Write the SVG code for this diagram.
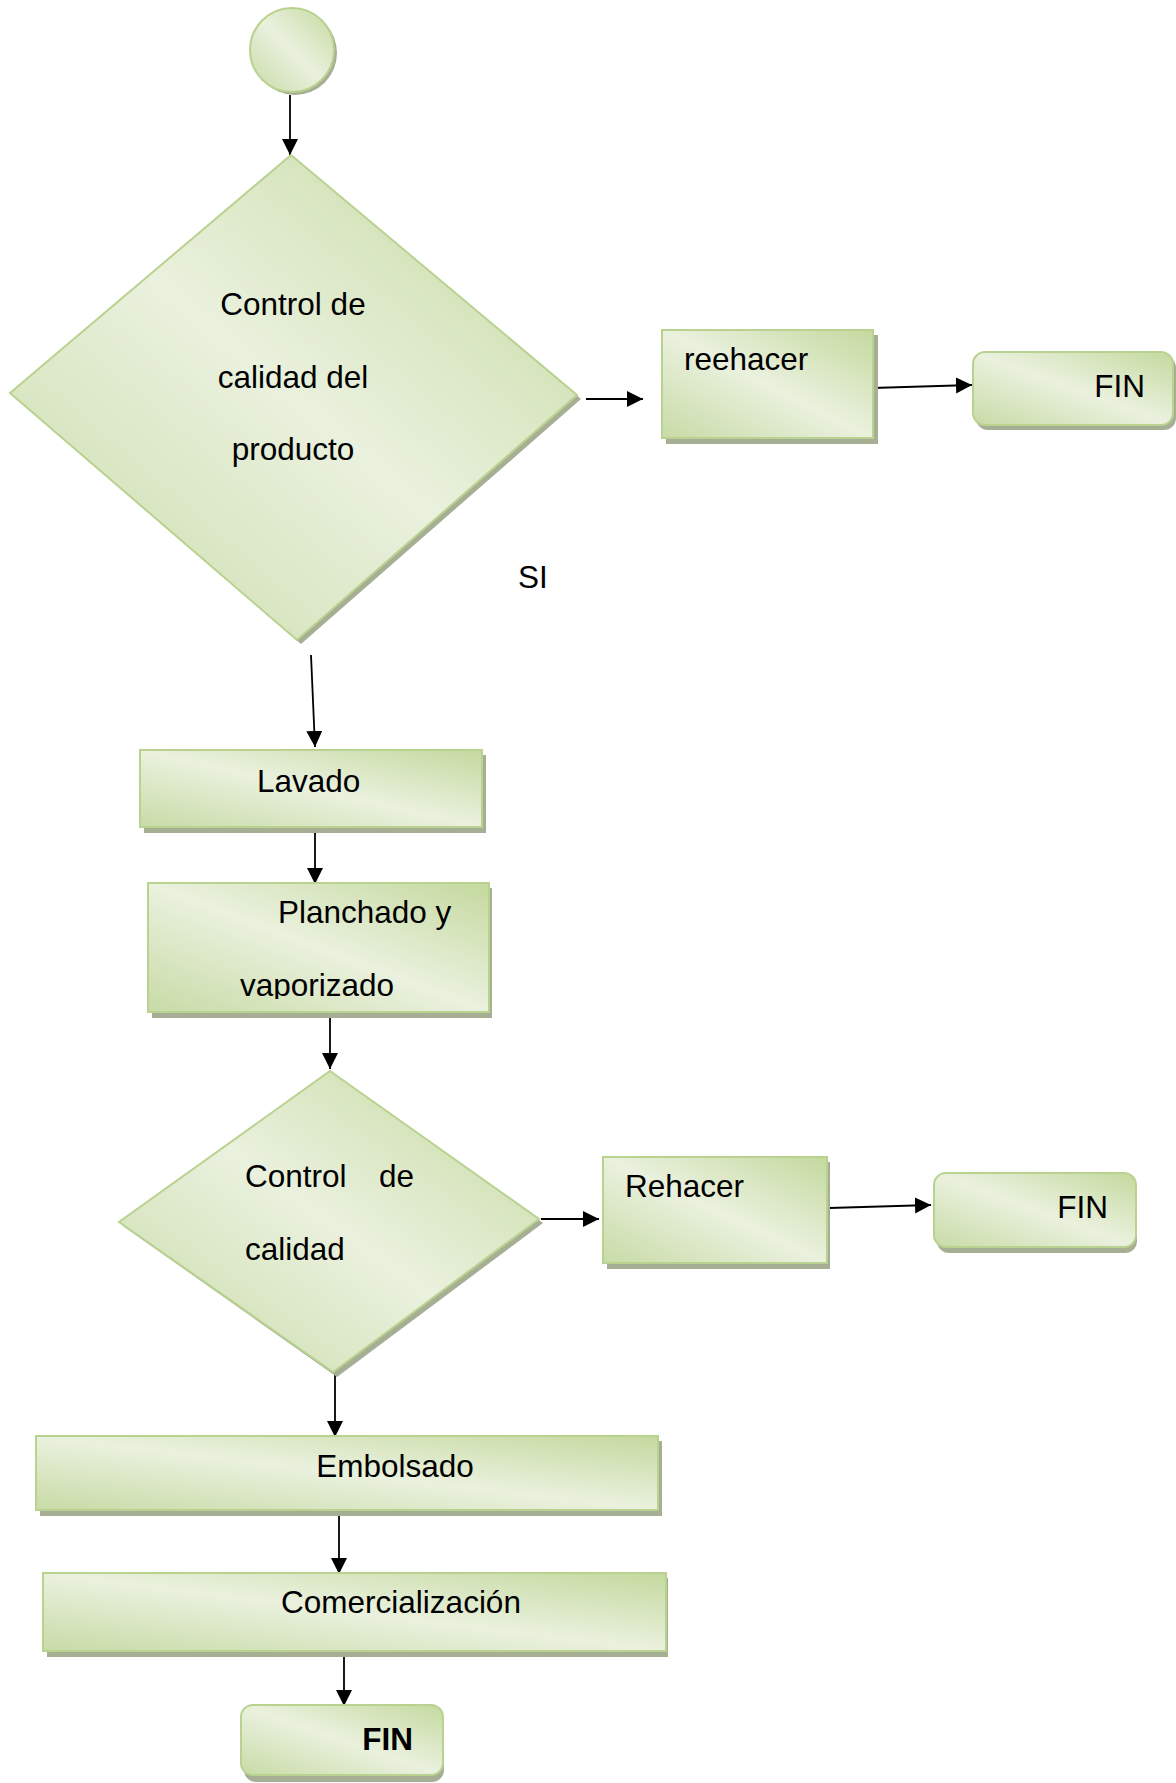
<svg xmlns="http://www.w3.org/2000/svg" width="1176" height="1783" viewBox="0 0 1176 1783">
<defs>
<linearGradient id="g" x1="0" y1="1" x2="1" y2="0">
<stop offset="0" stop-color="#c8dba6"/>
<stop offset="0.5" stop-color="#eaf1de"/>
<stop offset="1" stop-color="#c4d99e"/>
</linearGradient>
<marker id="arr" markerUnits="userSpaceOnUse" markerWidth="17" markerHeight="17" refX="16" refY="8" orient="auto">
<path d="M0,0 L16,8 L0,16 Z" fill="#000"/>
</marker>
<clipPath id="clipPlan"><rect x="148" y="883" width="341" height="116"/></clipPath>
</defs>
<style>
.sh{fill:#a6ae94;}
.nd{fill:url(#g);stroke:#b9d28f;stroke-width:2;}
.t{font-family:"Liberation Sans",Arial,sans-serif;font-size:31.5px;fill:#000;}
.c{stroke:#000;stroke-width:1.8;fill:none;marker-end:url(#arr);}
</style>
<rect width="1176" height="1783" fill="#fff"/>

<g id="connectors">
<line class="c" x1="290" y1="95" x2="290" y2="155"/>
<line class="c" x1="586" y1="399" x2="643" y2="399"/>
<line class="c" x1="872" y1="388" x2="972" y2="385"/>
<line class="c" x1="311" y1="655" x2="315" y2="747"/>
<line class="c" x1="315" y1="833" x2="315" y2="884"/>
<line class="c" x1="330" y1="1014" x2="330" y2="1069"/>
<line class="c" x1="541" y1="1219" x2="599" y2="1219"/>
<line class="c" x1="829" y1="1208" x2="931" y2="1205"/>
<line class="c" x1="335" y1="1374" x2="335" y2="1437"/>
<line class="c" x1="339" y1="1514" x2="339" y2="1574"/>
<line class="c" x1="344" y1="1652" x2="344" y2="1706"/>
</g>

<g id="start">
<circle class="sh" cx="295" cy="53" r="42"/>
<circle class="nd" cx="292" cy="50" r="42"/>
</g>

<g id="decision1">
<polygon class="sh" points="295,159 581,399 301,644 14,397"/>
<polygon class="nd" points="291,155 577,395 297,640 10,393"/>
<text class="t" x="293" y="315" text-anchor="middle">Control de</text>
<text class="t" x="293" y="388" text-anchor="middle">calidad del</text>
<text class="t" x="293" y="460" text-anchor="middle">producto</text>
</g>

<text id="label-si" class="t" x="518" y="588">SI</text>

<g id="reehacer">
<rect class="sh" x="666" y="335" width="212" height="109"/>
<rect class="nd" x="662" y="330" width="211" height="108"/>
<text class="t" x="684" y="370">reehacer</text>
</g>

<g id="fin1">
<rect class="sh" x="976" y="356" width="200" height="74" rx="12"/>
<rect class="nd" x="973" y="352" width="200" height="73" rx="12"/>
<text class="t" x="1145" y="397" text-anchor="end">FIN</text>
</g>

<g id="lavado">
<rect class="sh" x="144" y="755" width="342" height="78"/>
<rect class="nd" x="140" y="750" width="342" height="77"/>
<text class="t" x="257" y="792">Lavado</text>
</g>

<g id="planchado">
<rect class="sh" x="152" y="888" width="340" height="130"/>
<rect class="nd" x="148" y="883" width="341" height="129"/>
<g clip-path="url(#clipPlan)">
<text class="t" x="278" y="923">Planchado y</text>
<text class="t" x="240" y="996">vaporizado</text>
</g>
</g>

<g id="decision2">
<polygon class="sh" points="334,1075 543,1223 337,1377 123,1226"/>
<polygon class="nd" points="330,1071 539,1219 333,1372 119,1222"/>
<text class="t" y="1187"><tspan x="245">Control</tspan><tspan x="379">de</tspan></text>
<text class="t" x="245" y="1260">calidad</text>
</g>

<g id="rehacer">
<rect class="sh" x="607" y="1162" width="223" height="107"/>
<rect class="nd" x="603" y="1157" width="224" height="106"/>
<text class="t" x="625" y="1197">Rehacer</text>
</g>

<g id="fin2">
<rect class="sh" x="937" y="1178" width="200" height="75" rx="12"/>
<rect class="nd" x="934" y="1173" width="202" height="74" rx="12"/>
<text class="t" x="1108" y="1218" text-anchor="end">FIN</text>
</g>

<g id="embolsado">
<rect class="sh" x="40" y="1441" width="622" height="75"/>
<rect class="nd" x="36" y="1436" width="622" height="74"/>
<text class="t" x="395" y="1477" text-anchor="middle">Embolsado</text>
</g>

<g id="comercializacion">
<rect class="sh" x="47" y="1578" width="621" height="79"/>
<rect class="nd" x="43" y="1573" width="623" height="78"/>
<text class="t" x="401" y="1613" text-anchor="middle">Comercialización</text>
</g>

<g id="fin3">
<rect class="sh" x="244" y="1710" width="200" height="72" rx="12"/>
<rect class="nd" x="241" y="1705" width="202" height="70" rx="12"/>
<text class="t" x="413" y="1750" text-anchor="end" font-weight="bold">FIN</text>
</g>
</svg>
